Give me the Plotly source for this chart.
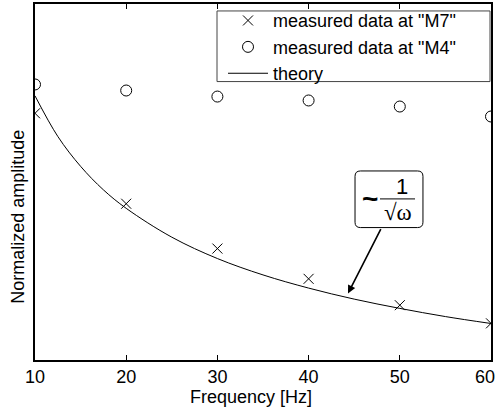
import plotly.graph_objects as go

# ---- data (y in normalized units 0..1) ----
freq = [10, 20, 30, 40, 50, 60]
m7_amp = [0.693, 0.439, 0.313, 0.228, 0.154, 0.103]
m4_amp = [0.774, 0.757, 0.740, 0.729, 0.712, 0.684]
theory_freq = [10, 12.5, 15, 17.5, 20, 25, 30, 35, 40, 45, 50, 55, 60]
theory_amp = [0.742, 0.628, 0.544, 0.478, 0.426, 0.345, 0.285, 0.239, 0.202, 0.171, 0.145, 0.122, 0.1025]
x_ticks = [10, 20, 30, 40, 50, 60]
legend_names = ['measured data at "M7"', 'measured data at "M4"', 'theory']

FONT = "Liberation Sans, Arial, sans-serif"
FS = 18
L, R, T, B = 35, 491, 2, 360   # plot area in pixels (for paper-coordinate helpers)


def px(xp):
    return (xp - L) / (R - L)


def py(yp):
    return (B - yp) / (B - T)


fig = go.Figure()
fig.add_trace(go.Scatter(x=freq, y=m7_amp, mode="markers", name=legend_names[0],
                         marker=dict(symbol="x-thin-open", size=10, color="black",
                                     line=dict(width=1, color="black"))))
fig.add_trace(go.Scatter(x=freq, y=m4_amp, mode="markers", name=legend_names[1],
                         marker=dict(symbol="circle-open", size=11, color="black",
                                     line=dict(width=1, color="black"))))
fig.add_trace(go.Scatter(x=theory_freq, y=theory_amp, mode="lines", name=legend_names[2],
                         line=dict(color="black", width=1, shape="spline")))

# rounded box for the annotation
x0, x1, y0, y1 = 45.09, 52.54, 0.372, 0.531
rx, ry = 0.6, 0.015
path = (f"M {x0+rx},{y0} L {x1-rx},{y0} Q {x1},{y0} {x1},{y0+ry} "
        f"L {x1},{y1-ry} Q {x1},{y1} {x1-rx},{y1} L {x0+rx},{y1} Q {x0},{y1} {x0},{y1-ry} "
        f"L {x0},{y0+ry} Q {x0},{y0} {x0+rx},{y0} Z")
shapes = [
    # legend frame
    dict(type="rect", xref="paper", yref="paper", x0=px(217), x1=px(490), y0=py(80), y1=py(9),
         line=dict(color="#444444", width=1), fillcolor="white", layer="above"),
    dict(type="path", path=path, xref="x", yref="y", line=dict(color="black", width=1),
         fillcolor="white", layer="above"),
    dict(type="line", xref="x", yref="y", x0=47.83, x1=51.67, y0=0.4525, y1=0.4525,
         line=dict(color="black", width=1)),
]

annotations = [
    dict(x=44.32, y=0.187, ax=48.0, ay=0.372, axref="x", ayref="y", xref="x", yref="y",
         text="", showarrow=True, arrowhead=2, arrowsize=1, arrowwidth=1.6, arrowcolor="black"),
    dict(x=46.73, y=0.4525, xref="x", yref="y", text="<b>~</b>", showarrow=False,
         font=dict(family=FONT, size=28, color="black")),
    dict(x=50.24, y=py(185.5), xref="x", yref="y", text="1", showarrow=False,
         font=dict(family=FONT, size=22, color="black")),
    dict(x=49.80, y=py(211.5), xref="x", yref="y", text="√ω", showarrow=False,
         font=dict(family="Liberation Serif, Times New Roman, serif", size=23, color="black")),
    # last tick label, kept inside the page edge
    dict(x=x_ticks[-1], y=py(377.5), xref="x", yref="paper", text=str(x_ticks[-1]),
         showarrow=False, xanchor="right", xshift=6, yanchor="middle",
         font=dict(family=FONT, size=FS, color="black")),
    dict(x=px(251), y=py(397), xref="paper", yref="paper", text="Frequency [Hz]",
         showarrow=False, xanchor="center", yanchor="middle",
         font=dict(family=FONT, size=FS, color="black")),
    dict(x=px(18), y=py(216), xref="paper", yref="paper", text="Normalized amplitude",
         showarrow=False, textangle=-90, xanchor="center", yanchor="middle",
         font=dict(family=FONT, size=FS, color="black")),
]

tick_text = [str(t) for t in x_ticks[:-1]] + [""]

fig.update_layout(
    width=498, height=414,
    margin=dict(l=L, r=498 - R, t=T, b=414 - B),
    paper_bgcolor="white", plot_bgcolor="white",
    font=dict(family=FONT, size=FS, color="black"),
    showlegend=True,
    legend=dict(x=px(461), xanchor="right", y=py(45.5), yanchor="middle",
                bgcolor="rgba(0,0,0,0)", borderwidth=0,
                font=dict(family=FONT, size=FS, color="black"),
                tracegroupgap=0, itemwidth=40),
    xaxis=dict(range=[10, 60], tickvals=x_ticks, ticktext=tick_text,
               ticks="inside", ticklen=5, tickwidth=1, tickcolor="black",
               showline=True, linecolor="black", linewidth=1.5, mirror="ticks",
               showgrid=False, zeroline=False,
               tickfont=dict(family=FONT, size=FS, color="black")),
    yaxis=dict(range=[0, 1], showticklabels=False, ticks="",
               showline=True, linecolor="black", linewidth=1.5, mirror=True,
               showgrid=False, zeroline=False),
    shapes=shapes,
    annotations=annotations,
)

post = """
document.documentElement.style.overflow='hidden';
document.body.style.margin='0';
document.body.style.overflow='hidden';
var gd = document.querySelector('.plotly-graph-div');
if (gd) { gd.style.overflow='hidden'; }
"""
fig.write_html("out.html", config={"displayModeBar": False}, post_script=post)
